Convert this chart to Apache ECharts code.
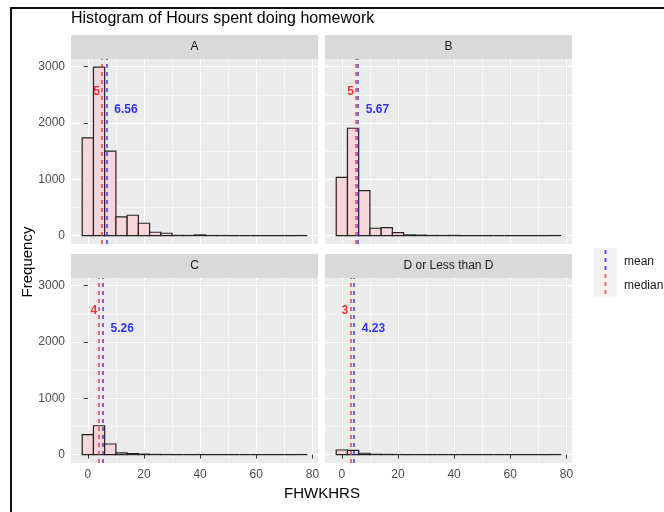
<!DOCTYPE html>
<html>
<head>
<meta charset="utf-8">
<script src="https://cdn.jsdelivr.net/npm/echarts@6/dist/echarts.min.js"></script>
<style>
html,body{margin:0;padding:0;background:#fff;}
#chart{width:664px;height:512px;}
</style>
</head>
<body>
<div id="chart"></div>
<script>
// ---- data ----
const panels = ['A', 'B', 'C', 'D or Less than D'];
const binCenters = [0, 4, 8, 12, 16, 20, 24, 28, 32, 36, 40, 44, 48, 52, 56, 60, 64, 68, 72, 76];
const binWidth = 4;
const countsA = [1735, 2990, 1500, 331, 361, 219, 60, 42, 3, 2, 12, 1, 1, 0, 0, 0, 0, 0, 0, 1];
const countsB = [1033, 1906, 797, 131, 142, 53, 12, 8, 2, 1, 3, 0, 0, 0, 0, 0, 0, 0, 0, 1];
const countsC = [353, 512, 188, 30, 18, 8, 3, 1, 0, 0, 1, 0, 0, 0, 0, 0, 0, 0, 0, 1];
const countsD = [82, 76, 24, 5, 3, 1, 0, 0, 0, 0, 0, 0, 0, 0, 0, 0, 0, 0, 0, 1];
const medians = [5, 5, 4, 3];
const means = [6.56, 5.67, 5.26, 4.23];
const medianLabelY = 2550;
const meanLabelY = 2240;
const xMajor = [0, 20, 40, 60, 80];
const xMinor = [10, 30, 50, 70];
const yMajor = [0, 1000, 2000, 3000];
const yMinor = [500, 1500, 2500];
const allCounts = [countsA, countsB, countsC, countsD];

// ---- layout ----
const FONT = '"Liberation Sans", Arial, sans-serif';
const gridPos = [
  {left: 71, top: 59}, {left: 325, top: 59},
  {left: 71, top: 278}, {left: 325, top: 278}
];
const PW = 247, PH = 185, STRIP = 24;
const xMin = -6, xMax = 82, yMin = -149, yMax = 3135;

const grids = [], xAxes = [], yAxes = [], series = [], graphics = [];
const plain = v => String(v);

gridPos.forEach((g, i) => {
  grids.push({left: g.left, top: g.top, width: PW, height: PH, show: true,
    backgroundColor: '#EBEBEB', borderWidth: 0, containLabel: false});
  const bottomRow = i >= 2, leftCol = i % 2 === 0;
  xAxes.push({
    type: 'value', gridIndex: i, min: xMin, max: xMax, position: 'bottom',
    axisLine: {show: false},
    axisTick: {show: bottomRow, customValues: xMajor, length: 4, lineStyle: {color: '#333333', width: 1}},
    axisLabel: {show: bottomRow, customValues: xMajor, formatter: plain, color: '#4D4D4D', fontSize: 12, fontFamily: FONT, margin: 6},
    splitLine: {show: true, lineStyle: {color: '#FFFFFF', width: 1.1}}
  });
  xAxes.push({
    type: 'value', gridIndex: i, min: xMin, max: xMax, position: 'top',
    axisLine: {show: false},
    axisTick: {show: false, customValues: xMinor},
    axisLabel: {show: false, customValues: xMinor},
    splitLine: {show: true, lineStyle: {color: '#FFFFFF', width: 0.55}}
  });
  yAxes.push({
    type: 'value', gridIndex: i, min: yMin, max: yMax, position: 'left',
    axisLine: {show: false},
    axisTick: {show: leftCol, customValues: yMajor, length: 4, lineStyle: {color: '#333333', width: 1}},
    axisLabel: {show: leftCol, customValues: yMajor, formatter: plain, color: '#4D4D4D', fontSize: 12, fontFamily: FONT, margin: 6},
    splitLine: {show: true, lineStyle: {color: '#FFFFFF', width: 1.1}}
  });
  yAxes.push({
    type: 'value', gridIndex: i, min: yMin, max: yMax, position: 'right',
    axisLine: {show: false},
    axisTick: {show: false, customValues: yMinor},
    axisLabel: {show: false, customValues: yMinor},
    splitLine: {show: true, lineStyle: {color: '#FFFFFF', width: 0.55}}
  });

  series.push({
    type: 'custom', xAxisIndex: 2 * i, yAxisIndex: 2 * i,
    data: binCenters.map((c, k) => [c, allCounts[i][k]]),
    renderItem: function (params, api) {
      const c = api.value(0), v = api.value(1);
      const p1 = api.coord([c - binWidth / 2, v]);
      const p2 = api.coord([c + binWidth / 2, 0]);
      return {
        type: 'rect',
        shape: {x: p1[0], y: p1[1], width: p2[0] - p1[0], height: p2[1] - p1[1]},
        style: {fill: '#F7D5DB', stroke: '#222222', lineWidth: 1.2}
      };
    },
    z: 3
  });

  series.push({
    type: 'scatter', xAxisIndex: 2 * i, yAxisIndex: 2 * i,
    symbolSize: 0, itemStyle: {color: 'rgba(0,0,0,0)'},
    data: [
      {value: [medians[i], medianLabelY], label: {show: true, position: 'left', distance: 2,
        formatter: String(medians[i]), color: '#FF0000', fontWeight: 'bold', fontSize: 12, fontFamily: FONT}},
      {value: [means[i], meanLabelY], label: {show: true, position: 'right', distance: 8,
        formatter: means[i].toFixed(2), color: '#0000FF', fontWeight: 'bold', fontSize: 12, fontFamily: FONT}}
    ],
    markLine: {
      silent: true, symbol: 'none', label: {show: false},
      data: [
        {xAxis: medians[i], lineStyle: {color: 'rgba(255,40,40,0.75)', type: [4, 4], width: 1.8}},
        {xAxis: means[i], lineStyle: {color: 'rgba(40,40,255,0.75)', type: [4, 4], width: 1.8}}
      ]
    },
    z: 5
  });

  // facet strip
  graphics.push({type: 'rect', shape: {x: g.left, y: g.top - STRIP, width: PW, height: STRIP},
    style: {fill: '#D9D9D9'}});
  graphics.push({type: 'text', x: g.left + PW / 2, y: g.top - STRIP / 2,
    style: {text: panels[i], fill: '#1A1A1A', font: '12px ' + FONT, align: 'center', verticalAlign: 'middle'}});
});

// legend (drawn as keys)
graphics.push({type: 'rect', shape: {x: 594, y: 248, width: 23, height: 49}, style: {fill: '#F2F2F2'}});
graphics.push({type: 'line', shape: {x1: 605.5, y1: 250, x2: 605.5, y2: 271},
  style: {stroke: 'rgba(40,40,255,0.85)', lineWidth: 1.8, lineDash: [4, 4]}});
graphics.push({type: 'line', shape: {x1: 605.5, y1: 274, x2: 605.5, y2: 296},
  style: {stroke: 'rgba(255,40,40,0.75)', lineWidth: 1.8, lineDash: [4, 4]}});
graphics.push({type: 'text', x: 624, y: 262, style: {text: 'mean', fill: '#1A1A1A', font: '12px ' + FONT, verticalAlign: 'middle'}});
graphics.push({type: 'text', x: 624, y: 286, style: {text: 'median', fill: '#1A1A1A', font: '12px ' + FONT, verticalAlign: 'middle'}});

// titles
graphics.push({type: 'text', x: 71, y: 19, style: {text: 'Histogram of Hours spent doing homework', fill: '#000000', font: '16px ' + FONT, verticalAlign: 'middle'}});
graphics.push({type: 'text', x: 322, y: 494, style: {text: 'FHWKHRS', fill: '#000000', font: '15px ' + FONT, align: 'center', verticalAlign: 'middle'}});
graphics.push({type: 'text', x: 28, y: 262, rotation: Math.PI / 2, style: {text: 'Frequency', fill: '#000000', font: '15px ' + FONT, align: 'center', verticalAlign: 'middle'}});

// frame
graphics.push({type: 'line', shape: {x1: 11, y1: 8, x2: 664, y2: 8}, style: {stroke: '#111', lineWidth: 2}});
graphics.push({type: 'line', shape: {x1: 11, y1: 7, x2: 11, y2: 512}, style: {stroke: '#111', lineWidth: 2}});

const chart = echarts.init(document.getElementById('chart'), null, {renderer: 'canvas'});
chart.setOption({
  animation: false,
  backgroundColor: '#FFFFFF',
  grid: grids, xAxis: xAxes, yAxis: yAxes, series: series,
  graphic: {elements: graphics}
});
</script>
</body>
</html>
